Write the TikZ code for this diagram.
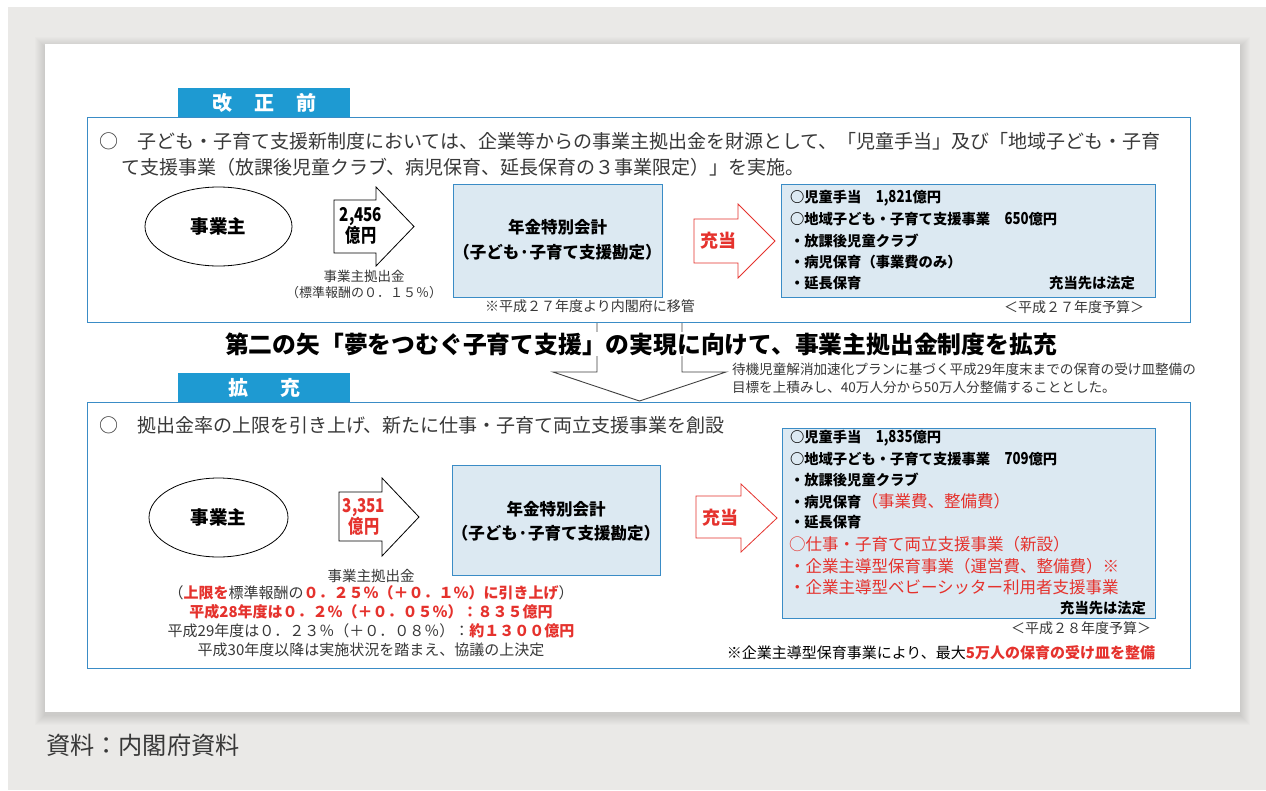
\documentclass[tikz,border=0pt]{standalone}
\usepackage{fontspec}
\setmainfont{Noto Sans CJK JP}
\newfontfamily\nrw{Noto Sans CJK JP}[FakeStretch=0.8]
\usetikzlibrary{shapes.geometric}
\definecolor{bgG}{HTML}{EAE9E7}
\definecolor{tabB}{HTML}{1E9AD2}
\definecolor{boxB}{HTML}{3A8CC6}
\definecolor{fillB}{HTML}{DCE9F2}
\definecolor{redT}{HTML}{E5322D}
\definecolor{txtG}{HTML}{383838}
\newcommand\fz[1]{\fontsize{#1}{#1}\selectfont}
\newcommand\rb[1]{\textcolor{redT}{\bfseries #1}}
\newcommand\rr[1]{\textcolor{redT}{#1}}
\begin{document}
\begin{tikzpicture}[x=1pt,y=-1pt,
  every node/.style={inner sep=0pt, outer sep=0pt},
  tx/.style={text=txtG, anchor=west},
  txc/.style={text=txtG, anchor=center},
  tabbox/.style={fill=tabB, minimum width=172pt, minimum height=29pt, text=white, font=\fz{20}\bfseries},
  panel/.style={draw=boxB, line width=1pt},
  bluebox/.style={draw=boxB, fill=fillB, line width=1pt},
  emp/.style={ellipse, draw=black, line width=0.8pt, fill=white, font=\fz{18.5}\bfseries},
  blk/.style={draw=black, fill=white, line width=0.8pt, line join=miter},
  redarrow/.style={draw=redT, fill=white, line width=0.8pt, line join=miter},
  bl/.style={anchor=west, text=black, font=\fz{14.3}\bfseries},
  rl/.style={anchor=west, text=redT, font=\fz{16.5}},
  amt/.style={font=\nrw\fz{19}\bfseries, align=center},
]
\useasboundingbox (0,0) rectangle (1266,790);
\fill[bgG] (8,7) rectangle (1266,790);
\foreach \i in {1,...,10} {
  \fill[black, opacity=0.012] (45-\i,44-\i+3) rectangle (1240+\i,712+\i+3);
}
\fill[white] (45,44) rectangle (1240,712);

% ---------- upper section ----------
\node[tabbox] (tab1) at (264,102.5) {改\hspace{22pt}正\hspace{22pt}前};
\node[panel, minimum width=1103pt, minimum height=205pt] (upper) at (638.5,219.5) {};
\node[tx, font=\fz{19}] (intro1) at (99,141) {○　子ども・子育て支援新制度においては、企業等からの事業主拠出金を財源として、「児童手当」及び「地域子ども・子育};
\node[tx, font=\fz{19}] (intro2) at (121,167) {て支援事業（放課後児童クラブ、病児保育、延長保育の３事業限定）」を実施。};

\node[emp, minimum width=147pt, minimum height=79pt] (emp1) at (218.5,226.5) {事業主};
\draw[blk] (334,200) -- (376,200) -- (376,187) -- (414,226.5) -- (376,266) -- (376,253) -- (334,253) -- cycle;
\node[amt, text=black] (amt1) at (361,226) {2,456\\[-1pt]億円};
\node[txc, font=\fz{13.5}] (src1a) at (364,276) {事業主拠出金};
\node[txc, font=\fz{13}] (src1b) at (364,293) {（標準報酬の０．１５％）};

\node[bluebox, minimum width=209pt, minimum height=113pt] (fund1) at (557.5,240.5) {};
\node[text=black, font=\fz{16.5}\bfseries] (fund1a) at (557.5,227) {年金特別会計};
\node[text=black, font=\fz{16.5}\bfseries] (fund1b) at (557.5,252) {（子ども·子育て支援勘定）};
\node[txc, font=\fz{14}] (move1) at (590,306) {※平成２７年度より内閣府に移管};

\draw[redarrow] (694,219) -- (738,219) -- (738,204) -- (775,241) -- (738,278) -- (738,263) -- (694,263) -- cycle;
\node[text=redT, font=\fz{18}\bfseries] (alloc1) at (718,241) {充当};

\node[bluebox, minimum width=374pt, minimum height=113pt] (use1) at (968,240.5) {};
\node[bl] (u1a) at (790,198) {○児童手当　{\nrw\fz{16.5}1,821}億円};
\node[bl] (u1b) at (790,219) {○地域子ども・子育て支援事業　{\nrw\fz{16.5}650}億円};
\node[bl] (u1c) at (790,241) {・放課後児童クラブ};
\node[bl] (u1d) at (790,262) {・病児保育（事業費のみ）};
\node[bl] (u1e) at (790,283) {・延長保育};
\node[bl, anchor=east] (u1f) at (1135,283) {充当先は法定};
\node[text=txtG, anchor=east, font=\fz{14}] (bud1) at (1144,307) {＜平成２７年度予算＞};

% ---------- transition ----------
\draw[black!75, line width=0.9pt, line join=miter] (597,323) -- (597,372) -- (553,372) -- (639.5,401) -- (726,372) -- (682,372) -- (682,323);
\node[fill=white, text=black, font=\fz{23.8}\bfseries] (title) at (641,344) {第二の矢「夢をつむぐ子育て支援」の実現に向けて、事業主拠出金制度を拡充};
\node[tx, font=\fz{13.6}] (note1) at (732,369) {待機児童解消加速化プランに基づく平成29年度末までの保育の受け皿整備の};
\node[tx, font=\fz{13.6}] (note2) at (732,387) {目標を上積みし、40万人分から50万人分整備することとした。};

% ---------- lower section ----------
\node[tabbox] (tab2) at (264,387.5) {拡\hspace{32pt}充};
\node[panel, minimum width=1103pt, minimum height=266pt] (lower) at (638.5,535) {};
\node[tx, font=\fz{19}] (intro3) at (99,425) {○　拠出金率の上限を引き上げ、新たに仕事・子育て両立支援事業を創設};

\node[emp, minimum width=139pt, minimum height=79pt] (emp2) at (218.5,517.5) {事業主};
\draw[blk] (339,492) -- (382,492) -- (382,478) -- (419,517) -- (382,556) -- (382,541) -- (339,541) -- cycle;
\node[amt, text=redT] (amt2) at (364,517) {3,351\\[-1pt]億円};

\node[bluebox, minimum width=208pt, minimum height=110pt] (fund2) at (556,520) {};
\node[text=black, font=\fz{16.5}\bfseries] (fund2a) at (556,509) {年金特別会計};
\node[text=black, font=\fz{16.5}\bfseries] (fund2b) at (556,533) {（子ども·子育て支援勘定）};

\node[txc, font=\fz{14.5}] (src2a) at (371,576) {事業主拠出金};
\node[txc, font=\fz{15}] (src2b) at (371,593) {（\rb{上限を}標準報酬の\rb{０．２５％（＋０．１％）に引き上げ}）};
\node[txc, font=\fz{15}] (src2c) at (371,612) {\rb{平成28年度は０．２％（＋０．０５％）：８３５億円}};
\node[txc, font=\fz{15}] (src2d) at (371,631) {平成29年度は０．２３％（＋０．０８％）：\rb{約１３００億円}};
\node[txc, font=\fz{15}] (src2e) at (371,650) {平成30年度以降は実施状況を踏まえ、協議の上決定};

\draw[redarrow] (696,496) -- (741,496) -- (741,484) -- (777,518) -- (741,552) -- (741,538) -- (696,538) -- cycle;
\node[text=redT, font=\fz{18}\bfseries] (alloc2) at (720,518) {充当};

\node[bluebox, minimum width=373pt, minimum height=190pt] (use2) at (968.5,523) {};
\node[bl] (u2a) at (790,438) {○児童手当　{\nrw\fz{16.5}1,835}億円};
\node[bl] (u2b) at (790,459) {○地域子ども・子育て支援事業　{\nrw\fz{16.5}709}億円};
\node[bl] (u2c) at (790,480) {・放課後児童クラブ};
\node[bl] (u2d) at (790,501) {・病児保育{\fz{16.5}\mdseries\rr{（事業費、整備費）}}};
\node[bl] (u2e) at (790,522) {・延長保育};
\node[rl] (u2f) at (789,544) {○仕事・子育て両立支援事業（新設）};
\node[rl] (u2g) at (789,566) {・企業主導型保育事業（運営費、整備費）※};
\node[rl] (u2h) at (789,587) {・企業主導型ベビーシッター利用者支援事業};
\node[bl, anchor=east] (u2i) at (1146,608) {充当先は法定};
\node[text=txtG, anchor=east, font=\fz{14}] (bud2) at (1151,628) {＜平成２８年度予算＞};
\node[text=black, anchor=east, font=\fz{15}] (foot2) at (1155,653) {※企業主導型保育事業により、最大\rb{5万人の保育の受け皿を整備}};

% ---------- source ----------
\node[tx, font=\fz{24.2}] (source) at (46,745) {資料：内閣府資料};
\end{tikzpicture}
\end{document}
